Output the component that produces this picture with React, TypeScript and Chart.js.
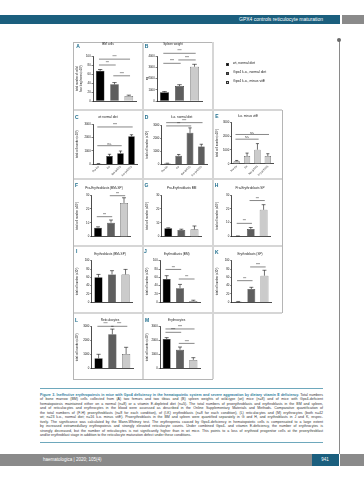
import React, { useEffect, useRef } from "react";
import { Chart, registerables } from "chart.js";
Chart.register(...registerables);

// ---------- data ----------
const groupNames = ["wt, normal diet", "Gpx4 k.o., normal diet", "Gpx4 k.o., minus vitE"];
const groupColors = ["#000000", "#5e5e5e", "#cbcbcb"];
const stageLabels = ["Pro-Eb", "Eb", "Ret (x100)", "Ery (x1000)"];

const bmCells = [67, 37, 11];
const bmCellsErr = [3, 4, 2];
const bmCellsSig: [number, number, number, string][] = [[0, 2, 93, "****"], [0, 1, 80, "***"], [1, 2, 56, "****"]];

const spleenWeight = [780, 1330, 3050];
const spleenWeightErr = [60, 120, 210];
const spleenWeightSig: [number, number, number, string][] = [[0, 2, 4240, "****"], [0, 1, 3350, "****"], [1, 2, 3650, "****"]];

const wtStages = [50, 620, 820, 2080];
const wtStagesErr = [10, 125, 170, 120];
const wtStagesSig: [number, number, number, string][] = [[0, 3, 2780, "****"], [0, 2, 1385, "n.s."]];

const koStages = [70, 650, 2400, 1350];
const koStagesErr = [15, 100, 380, 180];
const koStagesSig: [number, number, number, string][] = [[0, 3, 3180, "****"], [0, 2, 2930, "***"]];

const koVitEStages = [190, 560, 1020, 560];
const koVitEStagesErr = [50, 215, 440, 170];
const koVitEStagesSig: [number, number, number, string][] = [[0, 3, 2120, "n.s."], [0, 2, 1780, "n.s."]];

const proEbTotal = [6.5, 10.1, 24.3];
const proEbTotalErr = [0.6, 1.9, 3.7];
const proEbTotalSig: [number, number, number, string][] = [[0, 1, 14.4, "***"], [1, 2, 29.5, "***"]];

const proEbBM = [6.0, 4.8, 5.3];
const proEbBMErr = [0.4, 0.6, 2.4];

const proEbSP = [0.3, 5.5, 19.3];
const proEbSPErr = [0.1, 1.0, 3.7];
const proEbSPSig: [number, number, number, string][] = [[0, 1, 9.5, "***"], [1, 2, 26, "***"]];

const ebTotal = [60, 67, 67];
const ebTotalErr = [7, 9, 12];

const ebBM = [56, 34, 3];
const ebBMErr = [8, 9, 2];
const ebBMSig: [number, number, number, string][] = [[0, 1, 79, "***"], [1, 2, 56, "***"]];

const ebSP = [1.5, 32, 64];
const ebSPErr = [0.5, 4, 13];
const ebSPSig: [number, number, number, string][] = [[0, 1, 52, "***"], [1, 2, 85, "****"]];

const reticulocytes = [715, 2430, 1020];
const reticulocytesErr = [285, 370, 480];
const reticulocytesSig: [number, number, number, string][] = [[0, 1, 3000, "****"], [1, 2, 3000, "****"]];

const erythrocytes = [2100, 1330, 600];
const erythrocytesErr = [90, 190, 160];
const erythrocytesSig: [number, number, number, string][] = [[0, 2, 2810, "****"], [0, 1, 2570, "****"], [1, 2, 1780, "****"]];

const cellTitle = "total cell number (x10\u2076)";

// ---------- layout ----------
type Panel = {
  letter: string; title: string; x: number; y: number; w: number; h: number;
  plot: [number, number, number, number];
  labels: string[]; values: number[]; errs: number[]; colors: string[];
  yMax: number; yStep: number; yTitle: string | string[];
  sig: [number, number, number, string][]; showX: boolean;
  letterPos: [number, number]; titlePos: [number, number];
};

const mono = (c: string) => [c, c, c, c];

const panels: Panel[] = [
  { letter: "A", title: "BM cells", x: 73, y: 42, w: 70, h: 68, plot: [93, 56, 136, 101], labels: groupNames, values: bmCells, errs: bmCellsErr, colors: groupColors, yMax: 100, yStep: 20, yTitle: ["total number of cells/", "four long bones (x10\u2076)"], sig: bmCellsSig, showX: false, letterPos: [78, 45.5], titlePos: [108, 45] },
  { letter: "B", title: "Spleen weight", x: 143, y: 42, w: 70, h: 68, plot: [157, 56, 202, 101], labels: groupNames, values: spleenWeight, errs: spleenWeightErr, colors: groupColors, yMax: 4000, yStep: 1000, yTitle: "mg", sig: spleenWeightSig, showX: false, letterPos: [146.5, 45.5], titlePos: [173, 45] },
  { letter: "C", title: "wt normal diet", x: 73, y: 110, w: 70, h: 69, plot: [93, 124, 137, 164.3], labels: stageLabels, values: wtStages, errs: wtStagesErr, colors: mono(groupColors[0]), yMax: 3000, yStep: 1000, yTitle: cellTitle, sig: wtStagesSig, showX: true, letterPos: [76.7, 116.5], titlePos: [108, 117.5] },
  { letter: "D", title: "k.o. normal diet", x: 143, y: 110, w: 70, h: 69, plot: [161.7, 125, 207, 164.3], labels: stageLabels, values: koStages, errs: koStagesErr, colors: mono(groupColors[1]), yMax: 3000, yStep: 1000, yTitle: cellTitle, sig: koStagesSig, showX: true, letterPos: [146.5, 116.5], titlePos: [181.7, 117.5] },
  { letter: "E", title: "k.o. minus vitE", x: 213, y: 110, w: 69, h: 69, plot: [231.5, 122.3, 273, 163.8], labels: stageLabels, values: koVitEStages, errs: koVitEStagesErr, colors: mono(groupColors[2]), yMax: 3000, yStep: 1000, yTitle: cellTitle, sig: koVitEStagesSig, showX: true, letterPos: [217, 115.5], titlePos: [248, 116.5] },
  { letter: "F", title: "Pro-Erythroblasts (BM+SP)", x: 73, y: 179, w: 70, h: 67, plot: [91.5, 195, 130.5, 236.7], labels: groupNames, values: proEbTotal, errs: proEbTotalErr, colors: groupColors, yMax: 30, yStep: 10, yTitle: cellTitle, sig: proEbTotalSig, showX: false, letterPos: [76.5, 185], titlePos: [104, 189] },
  { letter: "G", title: "Pro-Erythroblasts BM", x: 143, y: 179, w: 70, h: 67, plot: [161.7, 195, 201, 236.7], labels: groupNames, values: proEbBM, errs: proEbBMErr, colors: groupColors, yMax: 30, yStep: 10, yTitle: cellTitle, sig: [], showX: false, letterPos: [146.5, 185], titlePos: [181.7, 189] },
  { letter: "H", title: "Pro-Erythroblasts SP", x: 213, y: 179, w: 69, h: 67, plot: [231.5, 195, 270, 236.5], labels: groupNames, values: proEbSP, errs: proEbSPErr, colors: groupColors, yMax: 30, yStep: 10, yTitle: cellTitle, sig: proEbSPSig, showX: false, letterPos: [216.5, 185], titlePos: [250, 189] },
  { letter: "I", title: "Erythroblasts (BM+SP)", x: 73, y: 246, w: 70, h: 67, plot: [91.7, 260.7, 132.3, 302.3], labels: groupNames, values: ebTotal, errs: ebTotalErr, colors: groupColors, yMax: 100, yStep: 20, yTitle: cellTitle, sig: [], showX: false, letterPos: [76.7, 251], titlePos: [110, 255] },
  { letter: "J", title: "Erythroblasts (BM)", x: 143, y: 246, w: 70, h: 67, plot: [160, 260.7, 200, 302.3], labels: groupNames, values: ebBM, errs: ebBMErr, colors: groupColors, yMax: 100, yStep: 20, yTitle: cellTitle, sig: ebBMSig, showX: false, letterPos: [145.5, 251], titlePos: [176.7, 255] },
  { letter: "K", title: "Erythroblasts (SP)", x: 213, y: 246, w: 69, h: 67, plot: [231.7, 260.7, 271, 302.3], labels: groupNames, values: ebSP, errs: ebSPErr, colors: groupColors, yMax: 100, yStep: 20, yTitle: cellTitle, sig: ebSPSig, showX: false, letterPos: [216.7, 251.5], titlePos: [250, 255] },
  { letter: "L", title: "Reticulocytes", x: 73, y: 313, w: 70, h: 66, plot: [91.7, 326.3, 133, 368.3], labels: groupNames, values: reticulocytes, errs: reticulocytesErr, colors: groupColors, yMax: 3000, yStep: 1000, yTitle: cellTitle, sig: reticulocytesSig, showX: false, letterPos: [76.5, 320], titlePos: [110, 320.7] },
  { letter: "M", title: "Erythrocytes", x: 143, y: 313, w: 70, h: 66, plot: [160, 326.3, 200, 368.3], labels: groupNames, values: erythrocytes, errs: erythrocytesErr, colors: groupColors, yMax: 3000, yStep: 1000, yTitle: cellTitle, sig: erythrocytesSig, showX: false, letterPos: [147, 320], titlePos: [176.7, 320.7] },
];

const FONT = '"Liberation Sans", Arial, sans-serif';
const TEAL = "#1b5f7e";
const LETTER = "#21708f";

function PanelChart({ p }: { p: Panel }) {
  const ref = useRef<HTMLCanvasElement>(null);
  useEffect(() => {
    const canvas = ref.current!;
    const annot = {
      id: "annot",
      afterDatasetsDraw(chart: any) {
        const ctx = chart.ctx;
        const xs = chart.scales.x;
        const ys = chart.scales.y;
        const meta = chart.getDatasetMeta(0);
        ctx.save();
        ctx.strokeStyle = "#111";
        ctx.lineWidth = 0.6;
        p.values.forEach((v, i) => {
          const bar = meta.data[i];
          const x = bar.x;
          const w = bar.width;
          const y0 = ys.getPixelForValue(v);
          const y1 = ys.getPixelForValue(v + p.errs[i]);
          ctx.beginPath();
          ctx.moveTo(x, y0);
          ctx.lineTo(x, y1);
          ctx.moveTo(x - w * 0.25, y1);
          ctx.lineTo(x + w * 0.25, y1);
          ctx.stroke();
        });
        ctx.lineWidth = 0.5;
        ctx.fillStyle = "#111";
        ctx.font = `2.6px ${FONT}`;
        ctx.textAlign = "center";
        ctx.textBaseline = "bottom";
        p.sig.forEach(([a, b, val, label]) => {
          const xa = xs.getPixelForValue(a) - 2;
          const xb = xs.getPixelForValue(b) + 2;
          const y = ys.getPixelForValue(val);
          ctx.beginPath();
          ctx.moveTo(xa + 0.8, y);
          ctx.lineTo(xb - 0.8, y);
          ctx.stroke();
          ctx.fillText(label, (xa + xb) / 2, y - 0.3);
        });
        ctx.restore();
      },
    };
    const tickFont = { size: 2.8, family: FONT };
    const chart = new Chart(canvas, {
      type: "bar",
      data: {
        labels: p.labels,
        datasets: [
          {
            data: p.values,
            backgroundColor: p.colors,
            borderColor: "#222",
            borderWidth: 0.5,
            categoryPercentage: 0.8,
            barPercentage: 0.75,
          },
        ],
      },
      options: {
        responsive: false,
        animation: false,
        devicePixelRatio: 1,
        layout: {
          padding: { left: 0, top: p.plot[1] - p.y, right: p.x + p.w - p.plot[2], bottom: 0 },
        },
        plugins: { legend: { display: false }, tooltip: { enabled: false }, title: { display: false } },
        scales: {
          x: {
            type: "category",
            offset: true,
            grid: { display: false, drawTicks: false },
            border: { display: true, color: "#000", width: 0.7 },
            ticks: {
              display: p.showX,
              font: { size: 2.6, family: FONT },
              color: "#111",
              minRotation: 45,
              maxRotation: 45,
              padding: 1,
              autoSkip: false,
            },
            afterFit(s: any) {
              s.height = p.y + p.h - p.plot[3];
            },
          },
          y: {
            min: 0,
            max: p.yMax,
            ticks: { stepSize: p.yStep, font: tickFont, color: "#111", padding: 0.8, callback: (v: any) => String(v) },
            grid: { display: true, drawOnChartArea: false, drawTicks: true, tickLength: 1.5, color: "#000", lineWidth: 0.5 },
            border: { display: true, color: "#000", width: 0.7 },
            title: { display: true, text: p.yTitle, font: { size: 2.7, family: FONT }, color: "#111", padding: { top: 3, bottom: 0 } },
            afterFit(s: any) {
              s.width = p.plot[0] - p.x;
            },
          },
        },
      } as any,
      plugins: [annot],
    });
    return () => chart.destroy();
  }, []);
  return (
    <canvas
      ref={ref}
      width={p.w}
      height={p.h}
      style={{ position: "absolute", left: p.x, top: p.y, width: p.w, height: p.h }}
    />
  );
}

const captionLines: [string, string][] = [
  ["Figure 3. Ineffective erythropoiesis in mice with Gpx4 deficiency in the hematopoietic system and severe aggravation by dietary vitamin E deficiency.", " Total numbers"],
  ["", "of bone marrow (BM) cells collected from (A) two femurs and two tibias and (B) spleen weights of wild-type (wt) mice (n=8) and of mice with Gpx4-deficient"],
  ["", "hematopoiesis maintained either on a normal (n=8) or a vitamin E-depleted diet (n=5). The total numbers of proerythroblasts and erythroblasts in the BM and spleen,"],
  ["", "and of reticulocytes and erythrocytes in the blood were assessed as described in the Online Supplementary Materials and Methods. Comparative quantification of"],
  ["", "the total numbers of (F-H) proerythroblasts (n=8 for each condition), of (I-K) erythroblasts (n=8 for each condition), (L) reticulocytes and (M) erythrocytes (both n=42"],
  ["", "wt; n=23 k.o., normal diet; n=16 k.o. minus vitE). Proerythroblasts in the BM and spleen were quantified separately in G and H, and erythroblasts in J and K, respec-"],
  ["", "tively. The significance was calculated by the Mann-Whitney test. The erythropenia caused by Gpx4-deficiency in hematopoietic cells is compensated to a large extent"],
  ["", "by increased extramedullary erythropoiesis and strongly elevated reticulocyte counts. Under combined Gpx4- and vitamin E-deficiency, the number of erythrocytes is"],
  ["", "strongly decreased, but the number of reticulocytes is not significantly higher than in wt mice. This points to a loss of erythroid progenitor cells at the proerythroblast"],
  ["", "and/or erythroblast stage in addition to the reticulocyte maturation defect under these conditions."],
];

const abs = (o: any) => ({ position: "absolute" as const, ...o });

export default function App() {
  const hLines: [number, number, number, boolean][] = [
    [42, 73, 213, true], [110, 73, 282, false], [179, 73, 282, false], [246, 73, 282, false], [313, 73, 282, false], [379, 73, 213, true],
  ];
  const vLines: [number, number, number, boolean][] = [
    [73, 42, 379, true], [143, 42, 379, false], [213, 42, 379, false], [282, 110, 313, true],
  ];
  return (
    <div style={abs({ left: 0, top: 0, width: 364, height: 480, background: "#fff", overflow: "hidden", fontFamily: FONT })}>
      {/* header */}
      <div style={abs({ left: 0, top: 15, width: 340, height: 9, background: TEAL })} />
      <div style={abs({ left: 342, top: 15, width: 22, height: 9, background: "#8a8a8a" })} />
      <div style={abs({ right: 41, top: 15, height: 9, lineHeight: "9px", fontSize: 5, color: "#fff", whiteSpace: "nowrap" })}>
        GPX4 controls reticulocyte maturation
      </div>
      {/* side rule */}
      <div style={abs({ left: 338.5, top: 40, width: 1, height: 414, background: "#8a8a8a" })} />
      <div style={abs({ left: 337, top: 37.5, width: 4, height: 4, borderRadius: 2, background: "#6a6a6a" })} />

      {/* frame lines */}
      {hLines.map(([y, x0, x1, outer], i) => (
        <div key={"h" + i} style={abs({ left: x0, top: y - (outer ? 0.5 : 1), width: x1 - x0, height: outer ? 1 : 2, background: outer ? "#b5b5b5" : "#d6d6d6" })} />
      ))}
      {vLines.map(([x, y0, y1, outer], i) => (
        <div key={"v" + i} style={abs({ left: x - (outer ? 0.5 : 1), top: y0, width: outer ? 1 : 2, height: y1 - y0, background: outer ? "#b5b5b5" : "#d6d6d6" })} />
      ))}

      {panels.map((p) => (
        <PanelChart key={p.letter} p={p} />
      ))}
      {panels.map((p) => (
        <React.Fragment key={"t" + p.letter}>
          <div style={abs({ left: p.letterPos[0], top: p.letterPos[1], transform: "translate(-50%,-50%)", fontSize: 5, fontWeight: 700, color: LETTER, lineHeight: 1 })}>{p.letter}</div>
          <div style={abs({ left: p.titlePos[0], top: p.titlePos[1], transform: "translate(-50%,-50%)", fontSize: 3.1, color: "#222", lineHeight: 1, whiteSpace: "nowrap" })}>{p.title}</div>
        </React.Fragment>
      ))}

      {/* legend */}
      {groupNames.map((g, i) => (
        <React.Fragment key={"lg" + i}>
          <div style={abs({ left: 226, top: 62.5 + i * 9, width: 3.4, height: 3.4, background: groupColors[i], border: "0.5px solid #333", boxSizing: "border-box" })} />
          <div style={abs({ left: 233, top: 64.2 + i * 9, transform: "translateY(-50%)", fontSize: 3.4, color: "#222", lineHeight: 1, whiteSpace: "nowrap" })}>{g}</div>
        </React.Fragment>
      ))}

      {/* caption */}
      <div style={abs({ left: 40, top: 388, width: 283, height: 1, background: "#6ea8bc" })} />
      <div style={abs({ left: 40, top: 392.5, width: 283, fontSize: 3.55, lineHeight: "4.5px", color: "#333" })}>
        {captionLines.map(([b, t], i) => (
          <div key={i} style={{ textAlign: "justify", textAlignLast: i === captionLines.length - 1 ? "left" : "justify", whiteSpace: "nowrap", height: 4.5 }}>
            {b ? <span style={{ color: "#2b7c9c", fontWeight: 700 }}>{b}</span> : null}
            {t}
          </div>
        ))}
      </div>
      <div style={abs({ left: 40, top: 441.5, width: 283, height: 1, background: "#6ea8bc" })} />

      {/* footer */}
      <div style={abs({ left: 0, top: 454, width: 311.5, height: 12, background: "#8a8a8a" })} />
      <div style={abs({ left: 311.5, top: 454, width: 27, height: 12, background: TEAL })} />
      <div style={abs({ left: 340, top: 454, width: 24, height: 12, background: "#8a8a8a" })} />
      <div style={abs({ left: 43, top: 454, height: 12, lineHeight: "12px", fontSize: 4.5, color: "#fff", whiteSpace: "nowrap" })}>
        haematologica | 2020; 105(4)
      </div>
      <div style={abs({ left: 325, top: 454, height: 12, lineHeight: "12px", fontSize: 4.5, color: "#fff", transform: "translateX(-50%)" })}>941</div>
    </div>
  );
}
